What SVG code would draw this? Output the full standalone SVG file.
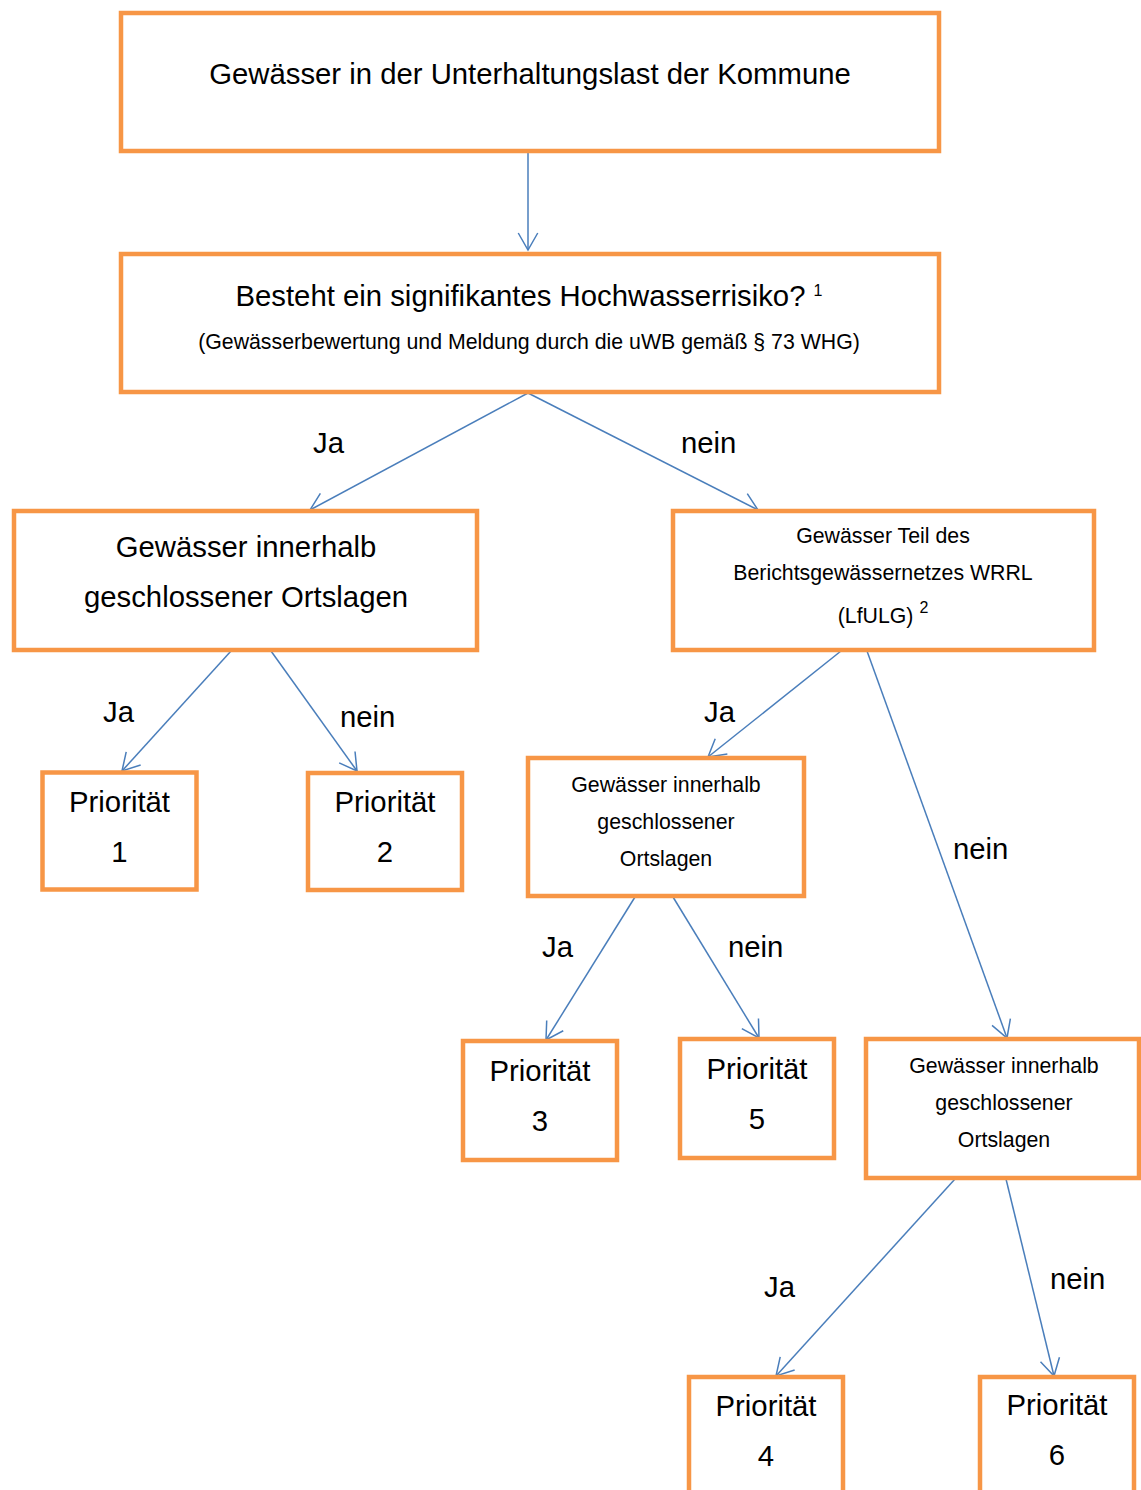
<svg xmlns="http://www.w3.org/2000/svg" width="1141" height="1490" viewBox="0 0 1141 1490">
<style>
.box{fill:#fff;stroke:#f79646;stroke-width:4.5}
.t{font-family:"Liberation Sans",Arial,sans-serif;fill:#000;text-anchor:middle}
.big{font-size:29.3px}
.sm{font-size:21.3px}
.lbl{font-family:"Liberation Sans",Arial,sans-serif;font-size:29.3px;fill:#000}
.c{stroke:#4a7ebb;stroke-width:1.5;fill:none}
</style>
<defs>
<marker id="arr" markerUnits="userSpaceOnUse" viewBox="-19 -12 21 24" markerWidth="21" markerHeight="24" refX="0" refY="0" orient="auto" overflow="visible">
<path d="M-17,-9.75 L0,0 L-17,9.75" fill="none" stroke="#4a7ebb" stroke-width="1.5"/>
</marker>
</defs>
<rect width="1141" height="1490" fill="#fff"/>
<g id="connectors">
<line class="c" x1="528" y1="152" x2="528" y2="250" marker-end="url(#arr)"/>
<line class="c" x1="528" y1="393" x2="310" y2="510" marker-end="url(#arr)"/>
<line class="c" x1="528" y1="393" x2="758" y2="510" marker-end="url(#arr)"/>
<line class="c" x1="231" y1="651" x2="122" y2="771" marker-end="url(#arr)"/>
<line class="c" x1="271" y1="651" x2="357" y2="771" marker-end="url(#arr)"/>
<line class="c" x1="841" y1="651" x2="708" y2="757" marker-end="url(#arr)"/>
<line class="c" x1="867" y1="651" x2="1007" y2="1038" marker-end="url(#arr)"/>
<line class="c" x1="635" y1="897" x2="546" y2="1040" marker-end="url(#arr)"/>
<line class="c" x1="673" y1="897" x2="759" y2="1038" marker-end="url(#arr)"/>
<line class="c" x1="955" y1="1179" x2="776" y2="1376" marker-end="url(#arr)"/>
<line class="c" x1="1006" y1="1179" x2="1054" y2="1376" marker-end="url(#arr)"/>
</g>
<g id="labels">
<text class="lbl" x="313" y="453">Ja</text>
<text class="lbl" x="681" y="453">nein</text>
<text class="lbl" x="103" y="722">Ja</text>
<text class="lbl" x="340" y="727">nein</text>
<text class="lbl" x="704" y="722">Ja</text>
<text class="lbl" x="953" y="859">nein</text>
<text class="lbl" x="542" y="957">Ja</text>
<text class="lbl" x="728" y="957">nein</text>
<text class="lbl" x="764" y="1297">Ja</text>
<text class="lbl" x="1050" y="1289">nein</text>
</g>
<g id="n1">
<rect class="box" x="121" y="13" width="818" height="138"/>
<text class="t big" x="530" y="84">Gewässer in der Unterhaltungslast der Kommune</text>
</g>
<g id="n2">
<rect class="box" x="121" y="254" width="818" height="138"/>
<text class="t big" x="529" y="306">Besteht ein signifikantes Hochwasserrisiko? <tspan font-size="16" dy="-10">1</tspan></text>
<text class="t sm" x="529" y="349">(Gewässerbewertung und Meldung durch die uWB gemäß § 73 WHG)</text>
</g>
<g id="n3">
<rect class="box" x="14" y="511" width="463" height="139"/>
<text class="t big" x="246" y="557">Gewässer innerhalb</text>
<text class="t big" x="246" y="607">geschlossener Ortslagen</text>
</g>
<g id="n4">
<rect class="box" x="673" y="511" width="421" height="139"/>
<text class="t sm" x="883" y="543">Gewässer Teil des</text>
<text class="t sm" x="883" y="580">Berichtsgewässernetzes WRRL</text>
<text class="t sm" x="883" y="623">(LfULG) <tspan font-size="16" dy="-10">2</tspan></text>
</g>
<g id="p1">
<rect class="box" x="42.5" y="772.5" width="154" height="117"/>
<text class="t big" x="119.5" y="812">Priorität</text>
<text class="t big" x="119.5" y="862">1</text>
</g>
<g id="p2">
<rect class="box" x="308" y="773" width="154" height="117"/>
<text class="t big" x="385" y="812">Priorität</text>
<text class="t big" x="385" y="862">2</text>
</g>
<g id="n5">
<rect class="box" x="528" y="758" width="276" height="138"/>
<text class="t sm" x="666" y="792">Gewässer innerhalb</text>
<text class="t sm" x="666" y="829">geschlossener</text>
<text class="t sm" x="666" y="866">Ortslagen</text>
</g>
<g id="p3">
<rect class="box" x="463" y="1041" width="154" height="119"/>
<text class="t big" x="540" y="1081">Priorität</text>
<text class="t big" x="540" y="1131">3</text>
</g>
<g id="p5">
<rect class="box" x="680" y="1039" width="154" height="119"/>
<text class="t big" x="757" y="1079">Priorität</text>
<text class="t big" x="757" y="1129">5</text>
</g>
<g id="n6">
<rect class="box" x="866" y="1039" width="273" height="139"/>
<text class="t sm" x="1004" y="1073">Gewässer innerhalb</text>
<text class="t sm" x="1004" y="1110">geschlossener</text>
<text class="t sm" x="1004" y="1147">Ortslagen</text>
</g>
<g id="p4">
<rect class="box" x="689" y="1377" width="154" height="130"/>
<text class="t big" x="766" y="1416">Priorität</text>
<text class="t big" x="766" y="1466">4</text>
</g>
<g id="p6">
<rect class="box" x="980" y="1377" width="154" height="130"/>
<text class="t big" x="1057" y="1415">Priorität</text>
<text class="t big" x="1057" y="1465">6</text>
</g>
</svg>
